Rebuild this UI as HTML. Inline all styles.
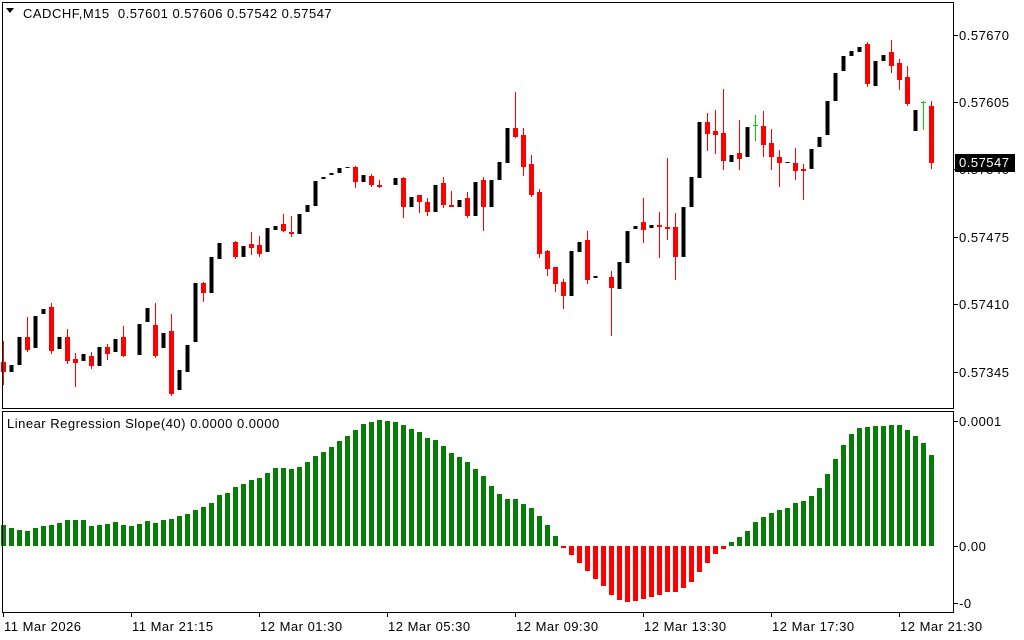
<!DOCTYPE html>
<html><head><meta charset="utf-8"><style>
html,body{margin:0;padding:0;background:#fff;width:1024px;height:640px;overflow:hidden}
svg{display:block;font-family:"Liberation Sans","DejaVu Sans",sans-serif}
</style></head><body>
<svg id="c" width="1024" height="640" xmlns="http://www.w3.org/2000/svg"></svg>
<script>
var C=[
['r',362,372,341,385],['b',365,372],['b',337,365],['r',337,350,317,352],['b',316,348],['b',309,314],['r',307,351,303,354],['b',337,349],['r',337,361,329,364],['r',359,363,353,387],
['b',354,361],['r',356,366,352,369],['b',347,366],['r',347,354,344,360],['b',339,352],['r',337,356,326,357],null,['b',324,355],['b',308,322],['r',325,356,303,358],
['b',333,348],['r',331,394,314,396],['b',370,390],['b',345,372],['b',283,342],['r',283,293,282,302],['b',257,293],['b',243,259],null,['r',242,257,241,259],
['b',246,257],['r',244,248,232,255],['r',245,254,236,257],['b',228,252],['b',226,230],['r',224,231,214,232],['r',232,234,216,237],['b',214,234],['b',205,212],['b',181,206],
['b',177,179],['b',173,175],['b',168,173],['b',167,168],['r',167,182,166,188],['b',175,182],['r',176,185,174,187],['r',185,187,180,188],null,['b',178,185],
['r',178,207,177,218],['b',197,207],['r',195,202,195,213],['r',202,212,198,216],['b',185,212],['r',183,205,177,208],['r',205,207,191,207],['b',200,207],['r',198,216,192,218],['b',182,216],
['r',180,207,177,231],['b',180,207],['b',162,180],['b',128,163],['r',128,137,92,138],['r',135,167,128,176],['r',164,195,155,197],['r',192,254,189,258],['r',251,269,250,276],['r',267,284,267,292],
['r',282,296,279,309],['b',251,296],['b',242,252],['r',240,280,231,284],['b',276,278],null,['r',277,288,271,336],['b',262,289],['b',231,263],['b',226,229],
['r',222,230,198,243],['b',225,228],['r',225,227,212,258],['r',227,229,158,240],['r',227,257,213,280],['b',207,257],['b',177,207],['b',122,178],['r',122,134,113,151],['r',131,135,110,154],
['r',133,161,89,170],['b',155,162],['r',153,159,120,170],['b',127,157],['g',125,125,115,141],['r',126,145,111,157],['r',143,157,129,170],['r',157,163,150,187],['b',162,163],['r',163,171,148,180],
['r',169,171,164,200],['b',149,169],['b',137,147],['b',101,135],['b',73,101],['b',56,71],['b',51,56],['b',47,52],['r',44,84,42,87],['b',61,86],
['b',55,61],['r',52,66,40,73],['r',63,80,59,90],['r',77,104,66,106],['b',110,131],['g',102,102,101,130],['r',106,163,101,169]
];
var H=[345,354,360,363,354,348,345,339,330,330,330,348,345,342,336,345,348,342,333,339,330,327,318,312,300,291,279,255,249,231,222,210,204,189,174,174,177,171,156,138,126,111,93,78,60,42,36,30,33,36,45,57,66,84,90,108,129,141,156,177,
198,228,252,267,267,282,294,318,345,378,
414,435,459,483,507,528,555,570,576,573,567,561,555,546,546,534,516,486,459,432,417,
396,381,363,336,321,309,300,294,279,273,258,234,192,147,105,72,54,51,48,48,45,45,60,78,99,135];
var s='';
function R(x,y,w,h,f){s+='<rect x="'+x+'" y="'+y+'" width="'+w+'" height="'+h+'" fill="'+f+'"/>';}
function T(x,y,t,a,f){s+='<text x="'+x+'" y="'+y+'" font-size="13" letter-spacing="0.5" fill="'+(f||'#000')+'"'+(a?' text-anchor="'+a+'"':'')+'>'+t+'</text>';}
for(var i=0;i<C.length;i++){var c=C[i];if(!c)continue;var x=3.5+8*i;
 if(c[0]=='b'){R(x-2,c[1],4,Math.max(1,c[2]-c[1]),'#000');}
 else if(c[0]=='r'){R(x-0.5,c[3],1,c[4]-c[3],'#f00');R(x-2.5,c[1],5,Math.max(2,c[2]-c[1]),'#f00');}
 else {R(x-0.5,c[3],1,c[4]-c[3],'#00d000');R(x-2.5,c[1],5,1,'#00d000');}}
for(var i=0;i<H.length;i++){var x=3.5+8*i;var v=H[i]/3+410;
 if(v<=546)R(x-2.5,v,5,546-v,'#077d07');else R(x-2.5,546,5,v-546,'#f00');}
s+='<rect x="2.5" y="2.5" width="951" height="406" fill="none" stroke="#000"/>';
s+='<rect x="2.5" y="411.5" width="951" height="201" fill="none" stroke="#000"/>';
var pl=[[35,'0.57670'],[102,'0.57605'],[169,'0.57540'],[237,'0.57475'],[304,'0.57410'],[372,'0.57345']];
pl.forEach(function(p){R(954,p[0],4,1,'#000');T(959,p[0]+5,p[1]);});
R(955,154,60,18,'#000');T(959,167,'0.57547',null,'#fff');
[[421,'0.0001'],[546,'0.00'],[603,'-0']].forEach(function(p){R(954,p[0],4,1,'#000');T(959,p[0]+5,p[1]);});
var tl=['11 Mar 2026','11 Mar 21:15','12 Mar 01:30','12 Mar 05:30','12 Mar 09:30','12 Mar 13:30','12 Mar 17:30','12 Mar 21:30'];
tl.forEach(function(t,k){var x=3+128*k;R(x,613,1,4,'#000');T(x+1,631,t);});
s+='<path d="M6 8 L14 8 L10 13 Z" fill="#000"/>';
T(23,18,'CADCHF,M15&#160; 0.57601 0.57606 0.57542 0.57547');
T(7,428,'Linear Regression Slope(40) 0.0000 0.0000');
document.getElementById('c').innerHTML=s;
</script>
</body></html>
